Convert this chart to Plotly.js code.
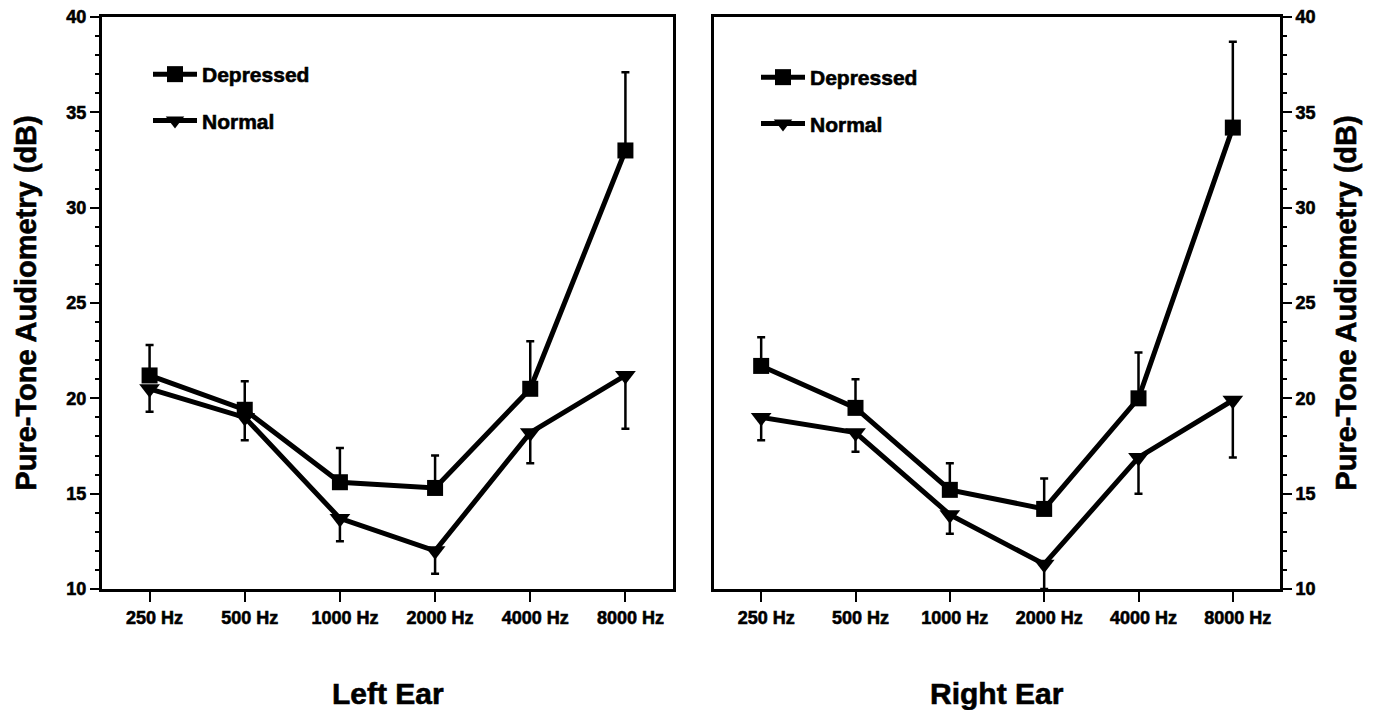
<!DOCTYPE html>
<html>
<head>
<meta charset="utf-8">
<script src="https://cdn.plot.ly/plotly-3.0.1.min.js"></script>
<style>
html,body{margin:0;padding:0;background:#fff;}
#chart{width:1385px;height:710px;}
#chart svg text{paint-order:stroke;stroke:#000;stroke-width:0.6px;}
</style>
</head>
<body>
<div id="chart"></div>
<script>
// Categories
const freqs = ['250 Hz', '500 Hz', '1000 Hz', '2000 Hz', '4000 Hz', '8000 Hz'];
const yTickVals = [10, 15, 20, 25, 30, 35, 40];

// Left ear
const leftDepressed = [21.2, 19.4, 15.6, 15.3, 20.5, 33.0];
const leftDepressedErr = [1.6, 1.5, 1.8, 1.7, 2.5, 4.1];
const leftNormal = [20.5, 19.0, 13.7, 12.0, 18.2, 21.2];
const leftNormalErr = [1.2, 1.2, 1.2, 1.2, 1.6, 2.8];

// Right ear
const rightDepressed = [21.7, 19.5, 15.2, 14.2, 20.0, 34.2];
const rightDepressedErr = [1.5, 1.5, 1.4, 1.6, 2.4, 4.5];
const rightNormal = [19.0, 18.2, 13.9, 11.3, 16.9, 19.9];
const rightNormalErr = [1.2, 1.0, 1.0, 1.3, 1.9, 3.0];

const noErr = [0, 0, 0, 0, 0, 0];

const FONT = 'Liberation Sans, Arial, sans-serif';
const W = 1385, H = 710;

function trace(name, y, errUp, errDown, sym, xa, ya, legend, group) {
  return {
    type: 'scatter', mode: 'lines+markers', name: name,
    x: freqs, y: y, xaxis: xa, yaxis: ya,
    legend: legend, legendgroup: group, showlegend: true,
    line: {color: '#000', width: 5},
    marker: {symbol: sym, size: sym === 'square' ? 16 : 18, color: '#000', line: {color: '#000', width: 0}},
    error_y: {type: 'data', symmetric: false, array: errUp, arrayminus: errDown,
              color: '#000', thickness: 2.5, width: 4}
  };
}

const data = [
  trace('Depressed', leftDepressed, leftDepressedErr, noErr, 'square', 'x', 'y', 'legend', 'd'),
  trace('Normal', leftNormal, noErr, leftNormalErr, 'triangle-down', 'x', 'y', 'legend', 'n'),
  trace('Depressed', rightDepressed, rightDepressedErr, noErr, 'square', 'x2', 'y2', 'legend2', 'd2'),
  trace('Normal', rightNormal, noErr, rightNormalErr, 'triangle-down', 'x2', 'y2', 'legend2', 'n2')
];

const yDom = [1 - 589 / H, 1 - 17 / H];

function xaxis(dom, anchor) {
  return {
    domain: dom, anchor: anchor, type: 'category', range: [-0.5, 5.5],
    showline: true, linecolor: '#000', linewidth: 3, mirror: true,
    ticks: 'outside', ticklen: 10, tickwidth: 2, tickcolor: '#000',
    ticklabelshift: 5,
    tickfont: {family: FONT, size: 18, color: '#000', weight: 'bold'},
    showgrid: false, zeroline: false, fixedrange: true
  };
}
function yaxis(anchor, side) {
  return {
    domain: yDom, anchor: anchor, side: side, range: [10, 40],
    tickvals: yTickVals,
    showline: true, linecolor: '#000', linewidth: 3, mirror: true,
    ticks: 'outside', ticklen: 9, tickwidth: 2, tickcolor: '#000',
    minor: {dtick: 1, ticks: 'outside', ticklen: 4, tickwidth: 2, tickcolor: '#000', showgrid: false},
    tickfont: {family: FONT, size: 18, color: '#000', weight: 'bold'},
    title: {text: 'Pure-Tone Audiometry (dB)', font: {family: FONT, size: 29, color: '#000', weight: 'bold'}, standoff: 22},
    showgrid: false, zeroline: false, fixedrange: true
  };
}

const legendCommon = {
  bgcolor: 'rgba(0,0,0,0)', borderwidth: 0, traceorder: 'grouped', tracegroupgap: 16,
  itemwidth: 44, xanchor: 'left', yanchor: 'top',
  font: {family: FONT, size: 21, color: '#000', weight: 'bold'}
};

const layout = {
  width: W, height: H,
  margin: {l: 0, r: 0, t: 0, b: 0},
  paper_bgcolor: '#fff', plot_bgcolor: '#fff',
  showlegend: true,
  xaxis: xaxis([102 / W, 673 / W], 'y'),
  yaxis: yaxis('x', 'left'),
  xaxis2: xaxis([714 / W, 1280 / W], 'y2'),
  yaxis2: yaxis('x2', 'right'),
  legend: Object.assign({}, legendCommon, {x: 148 / W, y: 1 - 54 / H}),
  legend2: Object.assign({}, legendCommon, {x: 756 / W, y: 1 - 57 / H}),
  annotations: [
    {text: 'Left Ear', xref: 'x domain', yref: 'paper', x: 0.5, y: 1 - 693 / H,
     showarrow: false, xanchor: 'center', yanchor: 'middle',
     font: {family: FONT, size: 30, color: '#000', weight: 'bold'}},
    {text: 'Right Ear', xref: 'x2 domain', yref: 'paper', x: 0.5, y: 1 - 693 / H,
     showarrow: false, xanchor: 'center', yanchor: 'middle',
     font: {family: FONT, size: 30, color: '#000', weight: 'bold'}}
  ]
};

Plotly.newPlot('chart', data, layout, {displayModeBar: false, staticPlot: true});
</script>
</body>
</html>
